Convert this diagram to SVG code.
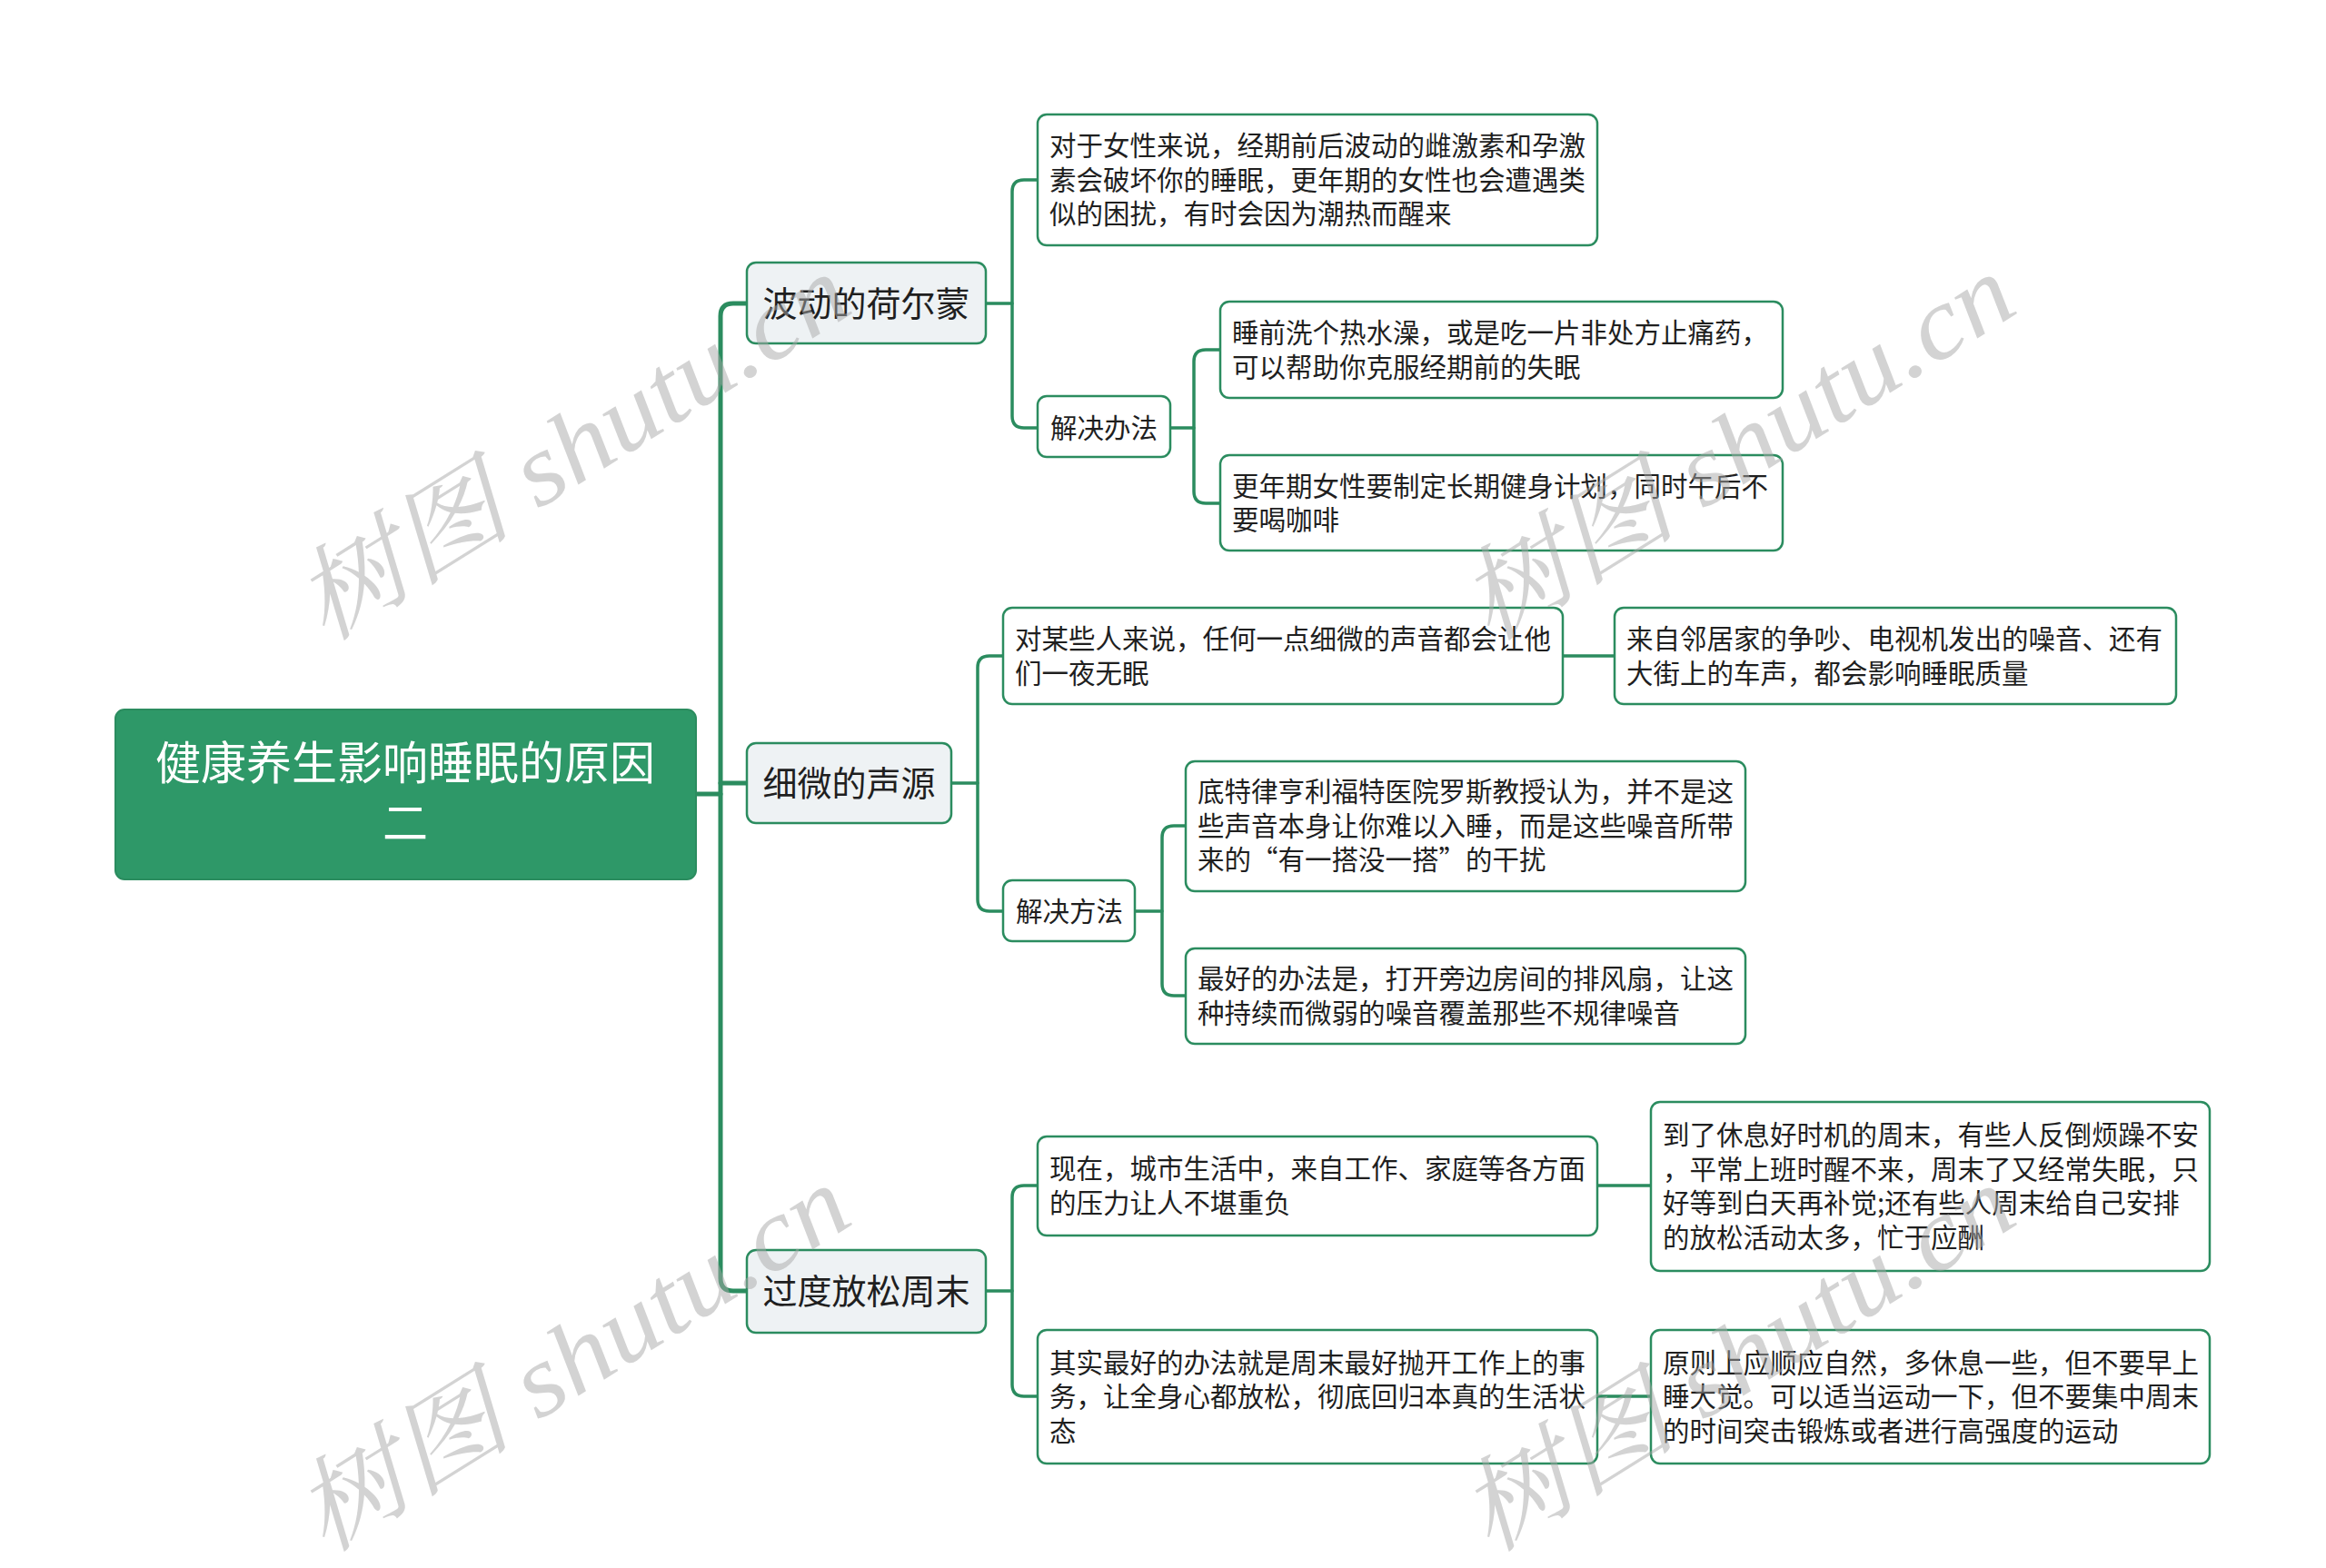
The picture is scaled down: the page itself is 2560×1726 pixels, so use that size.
<svg xmlns="http://www.w3.org/2000/svg" width="2560" height="1726" viewBox="0 0 2560 1726">
<style>
.bg{fill:#ffffff}
.con{fill:none;stroke:#2b8c5f;stroke-linecap:round;stroke-linejoin:round}
.c1{stroke-width:5}
.c2{stroke-width:3.5}
.root{fill:#2e9868;stroke:#2b8c5f;stroke-width:2}
.l1{fill:#eef2f4;stroke:#2b8c5f;stroke-width:2.5}
.box{fill:#ffffff;stroke:#2b8c5f;stroke-width:2.5}
text{font-family:"Noto Sans CJK SC","Noto Sans",sans-serif;fill:#1f1f1f}
.rt{font-size:50px;fill:#ffffff;text-anchor:middle}
.t1{font-size:38px;text-anchor:middle}
.t{font-size:29.5px}
.wm{font-family:"Liberation Serif","Noto Serif CJK SC","Noto Sans CJK SC",serif;font-style:italic;font-size:112px;fill:#a8a8a8;fill-opacity:0.5;text-anchor:middle}
</style>
<rect class="bg" x="0" y="0" width="2560" height="1726"/>
<g id="connectors">
<path class="con c1" d="M766,874 H793"/>
<path class="con c1" d="M822,334 H807 Q793,334 793,348 V1407 Q793,1421 807,1421 H822"/>
<path class="con c1" d="M793,862 H822"/>
<path class="con c2" d="M1085,334 H1114"/>
<path class="con c2" d="M1142,198 H1127 Q1114,198 1114,211 V458 Q1114,471 1127,471 H1142"/>
<path class="con c2" d="M1288,471 H1314"/>
<path class="con c2" d="M1343,385 H1327 Q1314,385 1314,398 V541 Q1314,554 1327,554 H1343"/>
<path class="con c2" d="M1047,862 H1076"/>
<path class="con c2" d="M1104,722 H1089 Q1076,722 1076,735 V990 Q1076,1003 1089,1003 H1104"/>
<path class="con c2" d="M1720,722 H1777"/>
<path class="con c2" d="M1249,1003 H1279"/>
<path class="con c2" d="M1305,909 H1292 Q1279,909 1279,922 V1083 Q1279,1096 1292,1096 H1305"/>
<path class="con c2" d="M1085,1421 H1114"/>
<path class="con c2" d="M1142,1305 H1127 Q1114,1305 1114,1318 V1524 Q1114,1537 1127,1537 H1142"/>
<path class="con c2" d="M1758,1305 H1817"/>
<path class="con c2" d="M1758,1537 H1817"/>
</g>
<g id="root">
<rect class="root" x="127" y="781" width="639" height="187" rx="10"/>
<text class="rt" x="446" y="858">健康养生影响睡眠的原因</text>
<text class="rt" x="446" y="924">二</text>
</g>
<g id="n-hormone">
<rect class="l1" x="822" y="289" width="263" height="89" rx="10"/>
<text class="t1" x="953.5" y="347.5">波动的荷尔蒙</text>
</g>
<g id="n-sound">
<rect class="l1" x="822" y="818" width="225" height="88" rx="10"/>
<text class="t1" x="934.5" y="875.5">细微的声源</text>
</g>
<g id="n-weekend">
<rect class="l1" x="822" y="1376" width="263" height="91" rx="10"/>
<text class="t1" x="953.5" y="1434.5">过度放松周末</text>
</g>
<g id="n-a1">
<rect class="box" x="1142" y="126" width="616" height="144" rx="10"/>
<text class="t" x="1155" y="171">对于女性来说，经期前后波动的雌激素和孕激</text>
<text class="t" x="1155" y="208.5">素会破坏你的睡眠，更年期的女性也会遭遇类</text>
<text class="t" x="1155" y="246">似的困扰，有时会因为潮热而醒来</text>
</g>
<g id="n-a2">
<rect class="box" x="1142" y="436" width="146" height="67" rx="10"/>
<text class="t" x="1156" y="481.5">解决办法</text>
</g>
<g id="n-a2a">
<rect class="box" x="1343" y="332" width="619" height="106" rx="10"/>
<text class="t" x="1356" y="377">睡前洗个热水澡，或是吃一片非处方止痛药，</text>
<text class="t" x="1356" y="414.5">可以帮助你克服经期前的失眠</text>
</g>
<g id="n-a2b">
<rect class="box" x="1343" y="501" width="619" height="105" rx="10"/>
<text class="t" x="1356" y="545.5">更年期女性要制定长期健身计划，同时午后不</text>
<text class="t" x="1356" y="583">要喝咖啡</text>
</g>
<g id="n-b1">
<rect class="box" x="1104" y="669" width="616" height="106" rx="10"/>
<text class="t" x="1117" y="714">对某些人来说，任何一点细微的声音都会让他</text>
<text class="t" x="1117" y="751.5">们一夜无眠</text>
</g>
<g id="n-b1a">
<rect class="box" x="1777" y="669" width="618" height="106" rx="10"/>
<text class="t" x="1790" y="714">来自邻居家的争吵、电视机发出的噪音、还有</text>
<text class="t" x="1790" y="751.5">大街上的车声，都会影响睡眠质量</text>
</g>
<g id="n-b2">
<rect class="box" x="1104" y="969" width="145" height="67" rx="10"/>
<text class="t" x="1118" y="1013.5">解决方法</text>
</g>
<g id="n-b2a">
<rect class="box" x="1305" y="838" width="616" height="143" rx="10"/>
<text class="t" x="1318" y="882">底特律亨利福特医院罗斯教授认为，并不是这</text>
<text class="t" x="1318" y="919.5">些声音本身让你难以入睡，而是这些噪音所带</text>
<text class="t" x="1318" y="957">来的“有一搭没一搭”的干扰</text>
</g>
<g id="n-b2b">
<rect class="box" x="1305" y="1044" width="616" height="105" rx="10"/>
<text class="t" x="1318" y="1088">最好的办法是，打开旁边房间的排风扇，让这</text>
<text class="t" x="1318" y="1125.5">种持续而微弱的噪音覆盖那些不规律噪音</text>
</g>
<g id="n-c1">
<rect class="box" x="1142" y="1251" width="616" height="109" rx="10"/>
<text class="t" x="1155" y="1297">现在，城市生活中，来自工作、家庭等各方面</text>
<text class="t" x="1155" y="1334.5">的压力让人不堪重负</text>
</g>
<g id="n-c1a">
<rect class="box" x="1817" y="1213" width="615" height="186" rx="10"/>
<text class="t" x="1830" y="1260">到了休息好时机的周末，有些人反倒烦躁不安</text>
<text class="t" x="1830" y="1297.5">，平常上班时醒不来，周末了又经常失眠，只</text>
<text class="t" x="1830" y="1335">好等到白天再补觉;还有些人周末给自己安排</text>
<text class="t" x="1830" y="1372.5">的放松活动太多，忙于应酬</text>
</g>
<g id="n-c2">
<rect class="box" x="1142" y="1464" width="616" height="147" rx="10"/>
<text class="t" x="1155" y="1510.5">其实最好的办法就是周末最好抛开工作上的事</text>
<text class="t" x="1155" y="1548">务，让全身心都放松，彻底回归本真的生活状</text>
<text class="t" x="1155" y="1585.5">态</text>
</g>
<g id="n-c2a">
<rect class="box" x="1817" y="1464" width="615" height="147" rx="10"/>
<text class="t" x="1830" y="1510.5">原则上应顺应自然，多休息一些，但不要早上</text>
<text class="t" x="1830" y="1548">睡大觉。可以适当运动一下，但不要集中周末</text>
<text class="t" x="1830" y="1585.5">的时间突击锻炼或者进行高强度的运动</text>
</g>
<g id="watermarks">
<text class="wm" transform="translate(650,525) rotate(-32)" textLength="690" lengthAdjust="spacingAndGlyphs">树图 shutu.cn</text>
<text class="wm" transform="translate(1932,525) rotate(-32)" textLength="690" lengthAdjust="spacingAndGlyphs">树图 shutu.cn</text>
<text class="wm" transform="translate(650,1528) rotate(-32)" textLength="690" lengthAdjust="spacingAndGlyphs">树图 shutu.cn</text>
<text class="wm" transform="translate(1932,1528) rotate(-32)" textLength="690" lengthAdjust="spacingAndGlyphs">树图 shutu.cn</text>
</g>
</svg>
